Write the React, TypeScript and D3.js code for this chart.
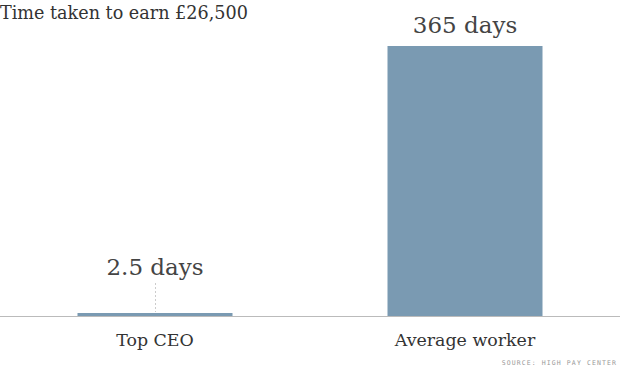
import React from "react";
import * as d3 from "d3";

const categories = ["Top CEO", "Average worker"];
const values = [2.5, 365];
const valueLabels = ["2.5 days", "365 days"];
const title = "Time taken to earn £26,500";
const source = "SOURCE: HIGH PAY CENTER";

const W = 620;
const H = 368;
const baseY = 316;
const topY = 46;

export default function App() {
  const x = d3.scaleBand<string>().domain(categories).range([0, W]).paddingInner(0.5).paddingOuter(0.25);
  const y = d3.scaleLinear().domain([0, 365]).range([baseY, topY]);
  const font = "'DejaVu Serif', serif";
  return (
    <svg width={W} height={H} style={{ position: "absolute", left: 0, top: 0, background: "#fff" }}>
      <text x={0} y={19} fontFamily={font} fontSize={17.6} fill="#333">{title}</text>
      <line x1={0} x2={W} y1={baseY + 0.5} y2={baseY + 0.5} stroke="#bbb" strokeWidth={1} />
      {categories.map((c, i) => {
        const bx = x(c)!;
        const bw = x.bandwidth();
        const cx = bx + bw / 2;
        const top = Math.min(y(values[i]), baseY - 3);
        const small = baseY - y(values[i]) < 20;
        const labelY = small ? 275 : top - 13;
        return (
          <g key={c}>
            <rect x={bx} y={top} width={bw} height={baseY - top} fill="#7a9ab2" />
            {small && (
              <line x1={cx + 0.5} x2={cx + 0.5} y1={283} y2={top - 1} stroke="#ccc" strokeDasharray="2,2" />
            )}
            <text x={cx} y={labelY} textAnchor="middle" fontFamily={font} fontSize={23} fill="#444">
              {valueLabels[i]}
            </text>
            <text x={cx} y={346} textAnchor="middle" fontFamily={font} fontSize={17.4} fill="#333">
              {c}
            </text>
          </g>
        );
      })}
      <text x={617} y={365} textAnchor="end" fontFamily="'DejaVu Sans Mono', monospace" fontSize={6.5} letterSpacing={1.1} fill="#999">
        {source}
      </text>
    </svg>
  );
}
